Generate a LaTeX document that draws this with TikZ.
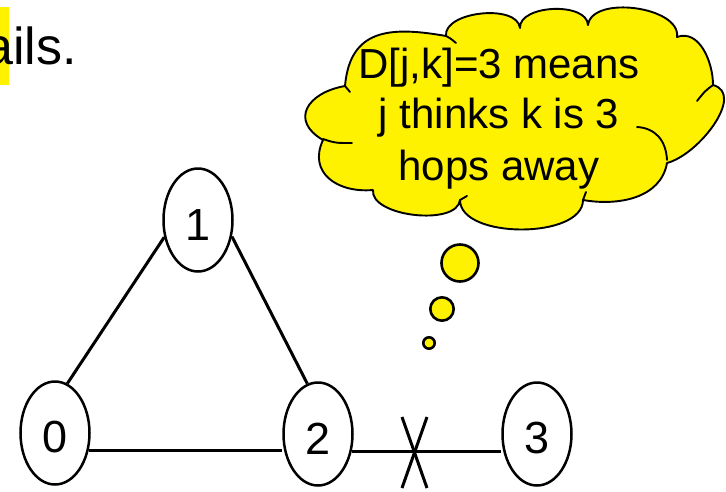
\documentclass[tikz,border=0pt]{standalone}
\usepackage{fontspec}
\setmainfont{Liberation Sans}
\usetikzlibrary{shapes.geometric}
\begin{document}
\begin{tikzpicture}[x=1pt,y=1pt,
  vertex/.style={ellipse, draw, line width=2.5pt, minimum width=69pt, minimum height=103pt,
    inner sep=0pt, text height=40pt, font=\fontsize{45}{54}\selectfont},
  link/.style={line width=3pt},
  bubble/.style={circle, draw, fill=yellow, line width=2.6pt, inner sep=0pt},
  cloudtxt/.style={anchor=base, inner sep=0pt, font=\fontsize{42}{50}\selectfont},
  crease/.style={line width=1.9pt, line cap=round}]
\useasboundingbox (0,0) rectangle (726,-491);

% partial text at top left
\fill[yellow] (0,-7) rectangle (8.5,-85);
\node[anchor=base west, inner sep=0pt, font=\fontsize{52}{60}\selectfont] (tail) at (-15.7,-64) {ails.};

% cloud
\filldraw[fill=yellow, draw=black, line width=1.9pt, line join=round]
  (345,-86) to[out=85, in=170, looseness=1.3] (446,-36)
  to[bend left=90, looseness=0.85] (520,-28)
  to[bend left=90, looseness=0.88] (588,-25)
  to[bend left=90, looseness=0.87] (677,-37)
  to[out=20, in=90, looseness=1] (713,-85)
  to[out=-15, in=15, looseness=0.95] (667,-163)
  to[out=-100, in=-10, looseness=1] (583,-200)
  to[bend left=90, looseness=0.82] (460,-200)
  to[bend left=90, looseness=0.78] (373,-190)
  to[out=185, in=-115, looseness=1.3] (323,-140)
  to[out=150, in=-170, looseness=1.7] cycle;
% creases
\draw[crease] (446,-36) .. controls (450,-38) .. (456,-43);
\draw[crease] (713,-85) .. controls (705,-91) .. (697,-101);
\draw[crease] (667,-160) .. controls (666,-140) and (655,-128) .. (637,-127);
\draw[crease] (323,-139) .. controls (335,-143) .. (352,-143);
\draw[crease] (345,-86) .. controls (347,-89) .. (350,-92);
\draw[crease] (460,-200) .. controls (463,-198) .. (467,-196);
\draw[crease] (583,-200) .. controls (584,-196) .. (586,-192);

\node[cloudtxt] (t1) at (499,-78) {D[j,k]=3 means};
\node[cloudtxt] (t2) at (499,-128) {j thinks k is 3};
\node[cloudtxt] (t3) at (499,-180) {hops away};

% thought bubbles
\node[bubble, minimum size=37pt] (b1) at (460,-263) {};
\node[bubble, minimum size=23.4pt] (b2) at (442,-309) {};
\node[bubble, minimum size=11.4pt] (b3) at (429,-343) {};

% graph
\node[vertex] (n0) at (55,-433) {0};
\node[vertex] (n1) at (198,-220) {1};
\node[vertex] (n2) at (318,-434) {2};
\node[vertex] (n3) at (537,-434) {3};

\draw[link] (n0.76) -- (n1.207);
\draw[link] (n1.334) -- (n2.102);
\draw[link] (n0.-27) -- (n0.-27 -| n2.west);
\draw[link] (n2.-28) -- (n2.-28 -| n3.west);

\coordinate (cut) at (414,-452);
\draw[link] ([shift={(-12,35)}]cut) -- ([shift={(13,-36)}]cut);
\draw[link] ([shift={(13,35)}]cut) -- ([shift={(-12,-36)}]cut);
\end{tikzpicture}
\end{document}
